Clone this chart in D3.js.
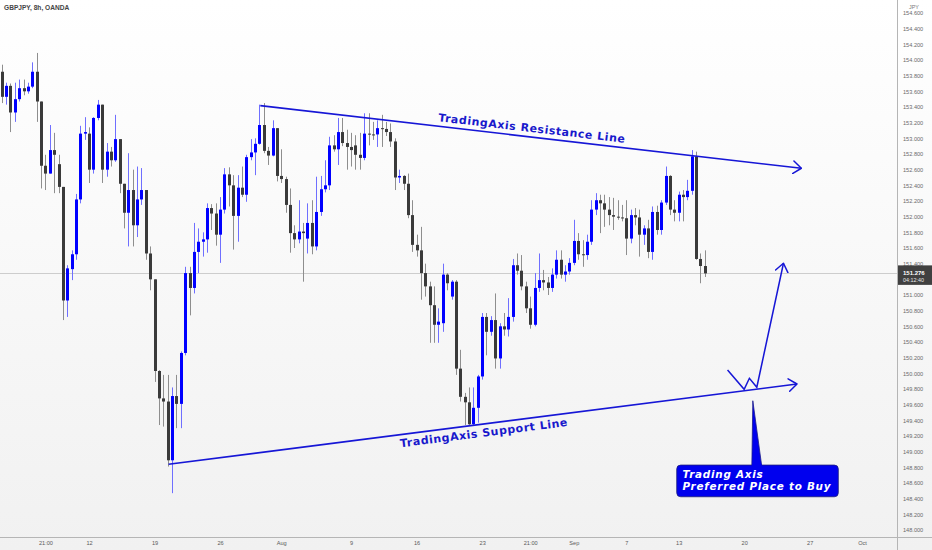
<!DOCTYPE html>
<html><head><meta charset="utf-8">
<script src="https://cdn.jsdelivr.net/npm/d3@7"></script>
<style>html,body{margin:0;padding:0;background:#fff;} svg{display:block;}</style>
</head><body>
<svg id="c" width="932" height="550"></svg>
<script>
// ---- data (GBPJPY 8h candles) ----
const opens = [153.85,153.53,153.67,153.33,153.50,153.64,153.60,153.66,153.85,153.47,
152.65,152.55,152.85,152.67,152.38,150.93,151.33,151.52,152.22,153.06,
153.06,152.60,153.26,153.43,152.60,152.83,152.72,152.99,152.42,152.05,
152.34,151.89,152.22,152.34,151.53,151.20,150.03,149.68,149.64,148.89,
149.71,149.61,150.26,151.28,151.09,151.55,151.68,151.71,152.11,152.04,
151.77,152.09,152.54,152.40,152.01,152.37,152.28,152.76,152.82,152.93,
153.17,152.84,152.78,153.13,152.52,152.48,152.15,151.79,151.71,151.81,
151.72,151.92,151.62,152.06,152.35,152.40,152.91,152.86,153.08,152.94,
152.89,152.91,152.79,152.75,153.06,153.05,153.05,153.13,153.12,153.08,
152.96,152.50,152.52,152.42,152.02,151.64,151.57,151.28,151.11,150.87,
150.62,150.64,151.26,150.98,151.17,150.06,149.70,149.63,149.35,149.56,
149.96,150.72,150.53,150.68,150.19,150.60,150.56,150.72,151.38,151.31,
151.11,150.83,150.62,151.09,151.19,151.16,151.09,151.26,151.45,151.26,
151.30,151.41,151.69,151.52,151.51,151.68,152.09,152.21,152.17,152.09,
152.02,152.00,151.99,151.98,151.72,152.02,151.99,151.77,151.85,151.55,
152.06,151.83,152.18,152.52,152.09,152.05,152.28,152.25,152.33,152.77,
151.46,151.37];
const highs = [153.94,153.71,153.70,153.71,153.75,153.75,153.71,153.97,154.09,153.47,
152.79,153.17,153.07,152.79,152.38,151.38,151.57,152.29,153.16,153.27,
153.14,153.27,153.49,153.43,152.94,152.89,153.30,152.99,152.42,152.81,
152.60,152.64,152.62,152.34,151.62,151.20,150.04,149.98,149.98,149.82,
149.98,150.28,151.36,151.36,151.92,151.85,151.80,152.17,152.16,152.17,
152.25,152.62,152.63,152.53,152.53,152.64,152.79,152.99,153.00,153.43,
153.45,152.89,153.23,153.13,152.86,152.51,152.36,151.89,152.21,151.92,
152.17,152.21,152.51,152.52,152.72,153.02,153.04,153.26,153.26,153.11,
153.07,153.04,153.07,153.32,153.32,153.21,153.23,153.30,153.21,153.19,
153.00,152.60,152.53,152.55,152.21,151.77,151.87,151.40,151.17,151.11,
150.83,151.40,151.28,151.19,151.19,150.30,149.75,149.82,149.82,149.98,
150.77,150.77,150.73,151.02,150.64,150.77,150.96,151.46,151.53,151.51,
151.17,150.98,151.28,151.53,151.32,151.23,151.34,151.57,151.57,151.38,
151.47,151.96,151.79,151.70,151.77,152.21,152.30,152.28,152.28,152.25,
152.24,152.21,152.15,152.21,152.09,152.11,152.09,151.89,151.96,152.13,
152.14,152.21,152.64,152.53,152.21,152.32,152.34,152.47,152.85,152.83,
151.53,151.57];
const lows = [153.45,153.43,153.08,153.21,153.47,153.55,153.57,153.64,153.21,152.36,
152.34,152.55,152.30,152.30,150.68,150.72,151.19,151.45,152.17,152.98,
152.43,152.55,153.23,152.43,152.51,152.64,152.70,152.30,151.85,151.62,
151.62,151.74,152.15,151.45,151.06,149.89,149.34,149.32,148.81,148.47,
149.30,149.30,150.23,150.74,151.02,151.28,151.49,151.54,151.83,151.63,
151.41,152.04,152.13,151.58,151.68,152.25,152.19,152.72,152.53,152.92,
152.81,152.66,152.77,152.45,152.43,152.05,151.54,151.60,151.66,151.17,
151.53,151.52,151.57,152.01,152.31,152.34,152.83,152.66,152.90,152.60,
152.64,152.60,152.60,152.72,152.91,152.98,152.89,152.89,153.03,152.89,
152.34,152.43,152.34,151.98,151.55,151.49,150.94,150.98,150.39,150.39,
150.39,150.53,151.06,150.94,149.98,149.64,149.34,149.34,149.34,149.37,
149.92,150.23,150.48,150.06,150.06,150.48,150.47,150.66,151.26,151.06,
150.77,150.57,150.60,151.04,151.06,151.00,151.04,151.21,151.21,151.17,
151.26,151.38,151.45,151.36,151.45,151.64,152.02,151.79,151.87,151.89,
151.83,151.96,151.94,151.51,151.66,151.89,151.49,151.64,151.47,151.45,
151.77,151.77,152.15,152.02,151.94,151.94,151.94,152.21,152.28,151.45,
151.15,151.23];
const closes = [153.53,153.67,153.33,153.50,153.64,153.60,153.66,153.85,153.47,152.65,
152.55,152.85,152.79,152.38,150.93,151.34,151.52,152.22,153.06,153.08,
152.60,153.26,153.43,152.60,152.83,152.72,152.99,152.42,152.05,152.34,
151.89,152.22,152.34,151.53,151.20,150.03,149.68,149.64,148.89,149.71,
149.61,150.26,151.28,151.09,151.55,151.68,151.71,152.11,152.04,151.77,
152.09,152.54,152.40,152.01,152.37,152.28,152.76,152.82,152.93,153.17,
152.84,152.78,153.13,152.52,152.48,152.15,151.79,151.71,151.81,151.79,
151.92,151.62,152.06,152.35,152.40,152.91,152.86,153.08,152.94,152.89,
152.85,152.79,152.75,153.06,153.05,153.04,153.13,153.12,153.08,152.96,
152.50,152.52,152.42,152.02,151.64,151.57,151.28,151.11,150.87,150.62,
150.66,151.26,151.15,151.17,150.06,149.70,149.63,149.35,149.56,149.96,
150.72,150.53,150.68,150.19,150.60,150.56,150.72,151.38,151.31,151.11,
150.83,150.62,151.09,151.19,151.16,151.09,151.26,151.45,151.26,151.30,
151.41,151.69,151.52,151.51,151.68,152.09,152.21,152.17,152.09,152.02,
152.00,151.99,151.98,151.72,152.02,151.99,151.77,151.85,151.55,152.06,
151.83,152.18,152.52,152.09,152.05,152.28,152.25,152.33,152.77,151.46,
151.37,151.276];

const priceTicks = [148.0,148.2,148.4,148.6,148.8,149.0,149.2,149.4,149.6,149.8,150.0,150.2,150.4,150.6,150.8,151.0,151.2,151.4,151.6,151.8,152.0,152.2,152.4,152.6,152.8,153.0,153.2,153.4,153.6,153.8,154.0,154.2,154.4,154.6];
const timeTickIndex = [10, 20, 35, 50, 64, 80, 95, 110, 121, 131, 143, 155, 170, 185, 197];
const timeTickLabels = ["21:00","12","19","26","Aug","9","16","23","21:00","Sep","7","13","20","27","Oct"];

const title = "GBPJPY, 8h, OANDA";
const currency = "JPY";
const lastPrice = 151.276;
const countdown = "04:12:40";

// drawings in (bar index, price)
const resistanceLine = [[59.2, 153.417], [183.1, 152.618]];
const supportLine = [[38.2, 148.839], [182.1, 149.864]];
const projectionPath = [[166.2, 150.043], [170.0, 149.796], [171.2, 149.937], [172.9, 149.822], [179.0, 151.405]];
const calloutAnchor = [172.1, 149.65];
const resistanceLabel = "TradingAxis Resistance Line";
const supportLabel = "TradingAxis Support Line";
const calloutLines = ["Trading Axis", "Preferred Place to Buy"];

// ---- chart ----
const W = 932, H = 550;
const plotRight = 897, plotBottom = 537;
const svg = d3.select('#c');
const defs = svg.append('defs');
const grad = defs.append('linearGradient').attr('id','bg').attr('x1',0).attr('y1',0).attr('x2',0).attr('y2',1);
grad.append('stop').attr('offset','0%').attr('stop-color','#ffffff');
grad.append('stop').attr('offset','100%').attr('stop-color','#f1f1f1');
svg.append('rect').attr('width',W).attr('height',H).attr('fill','url(#bg)');

const BLUE_LINE = '#1616d6';
const mk = defs.append('marker').attr('id','arr').attr('viewBox','0 -7 10 14')
  .attr('refX',9).attr('refY',0).attr('markerWidth',10).attr('markerHeight',14)
  .attr('markerUnits','userSpaceOnUse').attr('orient','auto');
mk.append('path').attr('d','M0.8,-6.3 L9,0 L0.8,6.3').attr('fill','none')
  .attr('stroke',BLUE_LINE).attr('stroke-width',1.5).attr('stroke-linecap','round').attr('stroke-linejoin','round');

const x = d3.scaleLinear().domain([-0.4, 205]).range([0, plotRight]);
const y = d3.scaleLinear().domain([148, 154.6]).range([530, 13]);

const plot = svg.append('g');
const clip = defs.append('clipPath').attr('id','pc');
clip.append('rect').attr('width',plotRight).attr('height',plotBottom);
plot.attr('clip-path','url(#pc)');

// last price line
plot.append('line').attr('x1',0).attr('x2',plotRight)
  .attr('y1',Math.round(y(lastPrice))+0.5).attr('y2',Math.round(y(lastPrice))+0.5)
  .attr('stroke','#cdcdcd').attr('stroke-width',1);

const candles = opens.map((o,i)=>({i, o, h:highs[i], l:lows[i], c:closes[i], up: closes[i] >= o}));
const UP = '#0000ff', DOWN = '#3a3a3a';
plot.append('g').selectAll('line').data(candles).join('line')
  .attr('x1',d=>Math.round(x(d.i))+0.5).attr('x2',d=>Math.round(x(d.i))+0.5)
  .attr('y1',d=>y(d.h)).attr('y2',d=>y(d.l))
  .attr('stroke',d=>d.up ? '#6f6fff' : '#8e8e8e').attr('stroke-width',1);
plot.append('g').selectAll('rect').data(candles).join('rect')
  .attr('x',d=>Math.round(x(d.i))-1).attr('width',3)
  .attr('y',d=>y(Math.max(d.o,d.c)))
  .attr('height',d=>Math.max(1, Math.abs(y(d.o)-y(d.c))))
  .attr('fill',d=>d.up ? UP : DOWN);

// drawings
const line = d3.line().x(d=>x(d[0])).y(d=>y(d[1]));
plot.append('path').datum(resistanceLine).attr('d',line).attr('fill','none')
  .attr('stroke',BLUE_LINE).attr('stroke-width',1.6).attr('marker-end','url(#arr)');
plot.append('path').datum(supportLine).attr('d',line).attr('fill','none')
  .attr('stroke',BLUE_LINE).attr('stroke-width',1.6).attr('marker-end','url(#arr)');
plot.append('path').datum(projectionPath).attr('d',line).attr('fill','none')
  .attr('stroke',BLUE_LINE).attr('stroke-width',1.5).attr('stroke-linejoin','miter').attr('marker-end','url(#arr)');

function labelAlong(pts, t, offset, text){
  const x0 = x(pts[0][0]), y0 = y(pts[0][1]), x1 = x(pts[1][0]), y1 = y(pts[1][1]);
  const ang = Math.atan2(y1-y0, x1-x0) * 180/Math.PI;
  const px = x0 + (x1-x0)*t, py = y0 + (y1-y0)*t;
  plot.append('text').attr('transform',`translate(${px},${py}) rotate(${ang})`)
    .attr('x',0).attr('y',offset).attr('text-anchor','middle')
    .attr('font-family','"DejaVu Sans", Verdana, sans-serif').attr('font-weight','bold')
    .attr('font-size',11).attr('letter-spacing',0.55).attr('fill','#1818cc').text(text);
}
labelAlong(resistanceLine, 0.50, -5, resistanceLabel);
labelAlong(supportLine, 0.50, 12.5, supportLabel);

// callout
const ax = x(calloutAnchor[0]), ay = y(calloutAnchor[1]);
const co = plot.append('g').attr('transform',`translate(${ax},${ay})`);
co.append('path').attr('d','M-0.5,0 L-1.5,66 L8.5,66 Z').attr('fill','#0000ee').attr('stroke','#1c1c8c').attr('stroke-width',0.8);
co.append('rect').attr('x',-76.6).attr('y',64.3).attr('width',161.6).attr('height',31.7).attr('rx',4)
  .attr('fill','#0000ee').attr('stroke','#20207a').attr('stroke-width',0.8);
co.append('path').attr('d','M-1.2,63 L-1.5,66 L8.5,66 L8.2,63 Z').attr('fill','#0000ee');
co.selectAll('text.cl').data(calloutLines).join('text').attr('class','cl')
  .attr('x',-70.8).attr('y',(d,i)=>77.0 + i*12.2)
  .attr('font-family','"DejaVu Sans", Verdana, sans-serif').attr('font-weight','bold').attr('font-style','italic')
  .attr('font-size',10.4).attr('letter-spacing',0.75).attr('fill','#ffffff').text(d=>d);

// axes frame
svg.append('line').attr('x1',plotRight+0.5).attr('x2',plotRight+0.5).attr('y1',0).attr('y2',H)
  .attr('stroke','#b5b5b5').attr('stroke-width',1);
svg.append('line').attr('x1',0).attr('x2',W).attr('y1',plotBottom+0.5).attr('y2',plotBottom+0.5)
  .attr('stroke','#b5b5b5').attr('stroke-width',1);

const yAxis = svg.append('g').attr('transform',`translate(${plotRight},0)`)
  .call(d3.axisRight(y).tickValues(priceTicks).tickFormat(d3.format('.3f')).tickSize(0).tickPadding(6));
yAxis.select('.domain').remove();
yAxis.selectAll('text').attr('font-family','"Liberation Sans", Arial, sans-serif').attr('font-size',5.6).attr('fill','#6a6a6a');

const xAxis = svg.append('g').attr('transform',`translate(0,${plotBottom})`)
  .call(d3.axisBottom(x).tickValues(timeTickIndex).tickFormat((d,i)=>timeTickLabels[i]).tickSize(0).tickPadding(4));
xAxis.select('.domain').remove();
xAxis.selectAll('text').attr('font-family','"Liberation Sans", Arial, sans-serif').attr('font-size',5.6).attr('fill','#5a5a5a');

// currency label
svg.append('text').attr('x',914).attr('y',8.5).attr('text-anchor','middle')
  .attr('font-family','"Liberation Sans", Arial, sans-serif').attr('font-size',5.4).attr('fill','#777').text(currency);

// last price tag
const ly = y(lastPrice);
svg.append('rect').attr('x',plotRight+1).attr('y',ly-8).attr('width',34).attr('height',19.5).attr('fill','#404040');
svg.append('text').attr('x',plotRight+6).attr('y',ly+2).attr('font-family','"Liberation Sans", Arial, sans-serif')
  .attr('font-size',6).attr('font-weight','bold').attr('fill','#ffffff').text(d3.format('.3f')(lastPrice));
svg.append('text').attr('x',plotRight+6).attr('y',ly+9).attr('font-family','"Liberation Sans", Arial, sans-serif')
  .attr('font-size',5.4).attr('fill','#e8e8e8').text(countdown);

// title
svg.append('text').attr('x',4).attr('y',9.5).attr('font-family','"Liberation Sans", Arial, sans-serif')
  .attr('font-size',6.6).attr('font-weight','bold').attr('fill','#454545').text(title);
</script>
</body></html>
